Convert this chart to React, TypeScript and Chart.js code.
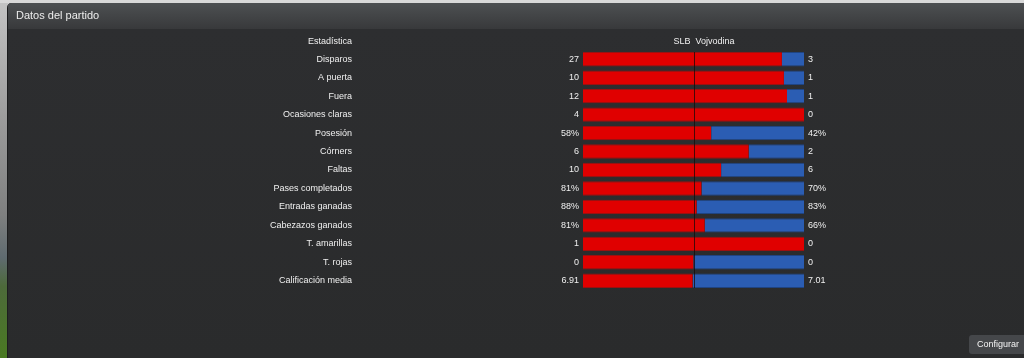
import React, { useEffect, useRef } from "react";
import { Chart, registerables } from "chart.js";

Chart.register(...registerables);

const panelTitle = "Datos del partido";
const headerLabel = "Estadística";
const homeTeam = "SLB";
const awayTeam = "Vojvodina";
const buttonLabel = "Configurar";

const statNames = [
  "Disparos",
  "A puerta",
  "Fuera",
  "Ocasiones claras",
  "Posesión",
  "Córners",
  "Faltas",
  "Pases completados",
  "Entradas ganadas",
  "Cabezazos ganados",
  "T. amarillas",
  "T. rojas",
  "Calificación media",
];
const homeValues = [27, 10, 12, 4, 58, 6, 10, 81, 88, 81, 1, 0, 6.91];
const awayValues = [3, 1, 1, 0, 42, 2, 6, 70, 83, 66, 0, 0, 7.01];
const valueSuffix = ["", "", "", "", "%", "", "", "%", "%", "%", "", "", ""];

const FONT = '"Liberation Sans", Arial, sans-serif';
const TEXT = "#f0f0f0";

// layout (pixels)
const LABEL_RIGHT = 356; // y-axis right edge
const BAR_LEFT = 583;
const BAR_RIGHT = 804;
const X_MIN = -(BAR_LEFT - LABEL_RIGHT) / (BAR_RIGHT - BAR_LEFT);

function shareOf(a: number, b: number) {
  const t = a + b;
  return t === 0 ? 0.5 : a / t;
}

const homeShare = homeValues.map((v, i) => shareOf(v, awayValues[i]));
const awayShare = homeShare.map((s) => 1 - s);

const backgroundPlugin = {
  id: "panelBackground",
  beforeDraw(chart: any) {
    const ctx = chart.ctx as CanvasRenderingContext2D;
    const W = chart.width;
    const H = chart.height;
    ctx.save();
    ctx.fillStyle = "#d9d9d9";
    ctx.fillRect(0, 0, W, H);
    const strip = ctx.createLinearGradient(0, 0, 0, H);
    strip.addColorStop(0, "#c4c4c4");
    strip.addColorStop(0.35, "#9a9a9a");
    strip.addColorStop(0.6, "#7f8080");
    strip.addColorStop(0.72, "#5f6b70");
    strip.addColorStop(0.8, "#4d6a3a");
    strip.addColorStop(1, "#4a7a22");
    ctx.fillStyle = strip;
    ctx.fillRect(0, 3, 8, H - 3);
    const px = 7;
    const py = 3;
    const r = 5;
    ctx.beginPath();
    ctx.moveTo(px + r, py);
    ctx.lineTo(W, py);
    ctx.lineTo(W, H);
    ctx.lineTo(px, H);
    ctx.lineTo(px, py + r);
    ctx.quadraticCurveTo(px, py, px + r, py);
    ctx.closePath();
    ctx.fillStyle = "#1c1d1e";
    ctx.fill();
    ctx.save();
    ctx.clip();
    const body = ctx.createLinearGradient(0, 28, 0, H);
    body.addColorStop(0, "#2d2e30");
    body.addColorStop(1, "#2a2b2c");
    ctx.fillStyle = body;
    ctx.fillRect(px + 1, 28, W - px - 1, H - 28);
    const bar = ctx.createLinearGradient(0, py, 0, 29);
    bar.addColorStop(0, "#4d5052");
    bar.addColorStop(1, "#38393b");
    ctx.fillStyle = bar;
    ctx.fillRect(px + 1, py, W - px - 1, 26);
    ctx.restore();
    ctx.fillStyle = "#ececec";
    ctx.font = `11px ${FONT}`;
    ctx.textAlign = "left";
    ctx.textBaseline = "middle";
    ctx.fillText(panelTitle, 16, 16);
    ctx.fillStyle = "#45474a";
    ctx.beginPath();
    ctx.moveTo(972, 335);
    ctx.lineTo(1024, 335);
    ctx.lineTo(1024, 354);
    ctx.lineTo(972, 354);
    ctx.quadraticCurveTo(969, 354, 969, 351);
    ctx.lineTo(969, 338);
    ctx.quadraticCurveTo(969, 335, 972, 335);
    ctx.fill();
    ctx.fillStyle = "#f4f4f4";
    ctx.font = `9px ${FONT}`;
    ctx.textAlign = "left";
    ctx.fillText(buttonLabel, 977, 344.5);
    ctx.restore();
  },
};

const overlayPlugin = {
  id: "overlayTexts",
  afterDatasetsDraw(chart: any) {
    const ctx = chart.ctx as CanvasRenderingContext2D;
    const xs = chart.scales.x;
    const ys = chart.scales.y;
    const x0 = xs.getPixelForValue(0);
    const x1 = xs.getPixelForValue(1);
    ctx.save();
    const cx = Math.round(xs.getPixelForValue(0.5)) + 0.5;
    const meta = chart.getDatasetMeta(0);
    const first = meta.data[0];
    const last = meta.data[meta.data.length - 1];
    const top = first.y - first.height / 2;
    const bottom = last.y + last.height / 2;
    ctx.strokeStyle = "rgba(20,10,10,0.75)";
    ctx.lineWidth = 1;
    ctx.beginPath();
    ctx.moveTo(cx, top);
    ctx.lineTo(cx, bottom);
    ctx.stroke();
    ctx.fillStyle = TEXT;
    ctx.font = `9px ${FONT}`;
    ctx.textBaseline = "middle";
    const hy = ys.getPixelForValue(0) - 17.5;
    ctx.textAlign = "right";
    ctx.fillText(headerLabel, ys.right - 4, hy);
    ctx.fillText(homeTeam, cx - 4, hy);
    ctx.textAlign = "left";
    ctx.fillText(awayTeam, cx + 1, hy);
    statNames.forEach((_, i) => {
      const y = ys.getPixelForValue(i);
      ctx.textAlign = "right";
      ctx.fillText(String(homeValues[i]) + valueSuffix[i], x0 - 4, y);
      ctx.textAlign = "left";
      ctx.fillText(String(awayValues[i]) + valueSuffix[i], x1 + 4, y);
    });
    ctx.restore();
  },
};

export default function App() {
  const ref = useRef<HTMLCanvasElement | null>(null);
  useEffect(() => {
    if (!ref.current) return;
    const chart = new Chart(ref.current, {
      type: "bar",
      data: {
        labels: statNames,
        datasets: [
          {
            label: homeTeam,
            data: homeShare,
            backgroundColor: "#e00000",
            borderColor: "#9c1010",
            borderWidth: { top: 1, bottom: 1, left: 0, right: 0 },
            borderSkipped: false,
          },
          {
            label: awayTeam,
            data: awayShare,
            backgroundColor: "#2b5db3",
            borderColor: "#1f4482",
            borderWidth: { top: 1, bottom: 1, left: 0, right: 0 },
            borderSkipped: false,
          },
        ],
      },
      options: {
        responsive: false,
        animation: false,
        indexAxis: "y",
        layout: { padding: { left: LABEL_RIGHT - 100, right: 1024 - BAR_RIGHT, top: 50, bottom: 68 } },
        datasets: { bar: { barPercentage: 0.78, categoryPercentage: 1 } },
        plugins: { legend: { display: false }, tooltip: { enabled: false } },
        scales: {
          x: { display: false, stacked: true, min: X_MIN, max: 1 },
          y: {
            stacked: true,
            grid: { display: false, drawTicks: false },
            border: { display: false },
            ticks: { color: TEXT, font: { family: FONT, size: 9 }, padding: 4 },
            afterFit(scale: any) {
              scale.width = 100;
            },
          },
        },
      },
      plugins: [backgroundPlugin, overlayPlugin],
    } as any);
    return () => chart.destroy();
  }, []);
  return (
    <div style={{ position: "fixed", left: 0, top: 0, width: 1024, height: 358 }}>
      <canvas ref={ref} width={1024} height={358} style={{ display: "block" }} />
    </div>
  );
}
